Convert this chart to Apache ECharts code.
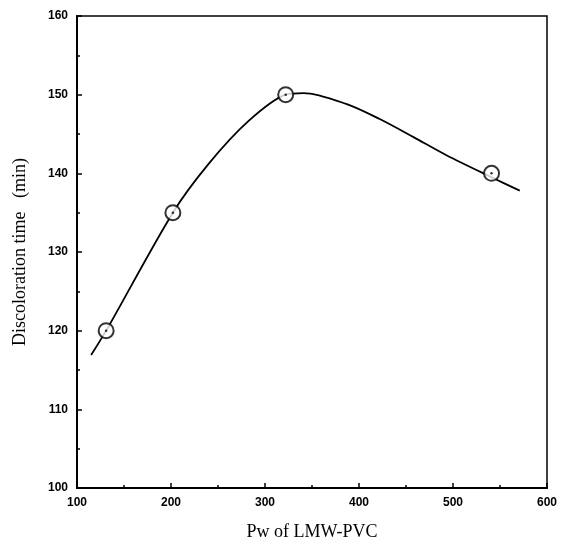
<!DOCTYPE html>
<html>
<head>
<meta charset="utf-8">
<script src="https://cdn.jsdelivr.net/npm/echarts@6/dist/echarts.min.js"></script>
<style>html,body{margin:0;padding:0;background:#fff;}#c{width:563px;height:546px;}</style>
</head>
<body>
<div id="c"></div>
<script>
// measured points
var pointX = [131, 202, 322, 541];
var pointY = [120, 135, 150, 140];
// fitted curve
var curveX = [115, 131, 202, 240, 282, 322, 341, 387, 422, 458, 493, 541, 571];
var curveY = [116.9, 120, 135, 141.2, 146.6, 150, 150.2, 148.8, 146.9, 144.6, 142.3, 139.5, 137.8];
var xTicks = [100, 200, 300, 400, 500, 600];
var yTicks = [100, 110, 120, 130, 140, 150, 160];
var xTitle = 'Pw of LMW-PVC';
var yTitle = 'Discoloration time   (min)';

var curve = curveX.map(function (x, i) { return [x, curveY[i]]; });
var pts = pointX.map(function (x, i) { return [x, pointY[i]]; });

var chart = echarts.init(document.getElementById('c'), null, {renderer: 'canvas'});
var labelStyle = {color: '#000', fontFamily: 'Liberation Sans, Arial, sans-serif', fontWeight: 'bold', fontSize: 12};
chart.setOption({
  animation: false,
  backgroundColor: '#fff',
  grid: {left: 77, right: 16, top: 16, bottom: 54, show: true, borderColor: '#000', borderWidth: 1.5, backgroundColor: 'transparent'},
  xAxis: {
    type: 'value', min: xTicks[0], max: xTicks[xTicks.length - 1], interval: 100,
    name: xTitle, nameLocation: 'middle', nameGap: 35,
    nameTextStyle: {color: '#000', fontFamily: 'Liberation Serif, Times New Roman, serif', fontSize: 18},
    axisLine: {show: true, lineStyle: {color: '#000', width: 2}},
    axisTick: {show: true, inside: true, length: 5, lineStyle: {color: '#000', width: 1.5}},
    minorTick: {show: true, splitNumber: 2, length: 3, lineStyle: {color: '#000', width: 1.5}},
    splitLine: {show: false},
    axisLabel: Object.assign({margin: 9}, labelStyle)
  },
  yAxis: {
    type: 'value', min: yTicks[0], max: yTicks[yTicks.length - 1], interval: 10,
    name: yTitle, nameLocation: 'middle', nameGap: 48,
    nameTextStyle: {color: '#000', fontFamily: 'Liberation Serif, Times New Roman, serif', fontSize: 18},
    axisLine: {show: true, lineStyle: {color: '#000', width: 2}},
    axisTick: {show: true, inside: true, length: 5, lineStyle: {color: '#000', width: 1.5}},
    minorTick: {show: true, splitNumber: 2, length: 3, lineStyle: {color: '#000', width: 1.5}},
    splitLine: {show: false},
    axisLabel: Object.assign({margin: 9}, labelStyle)
  },
  series: [
    {
      type: 'line', data: curve, smooth: 0.3, showSymbol: false, symbol: 'none',
      lineStyle: {color: '#000', width: 1.8}, z: 2
    },
    {
      type: 'scatter', data: pts, symbol: 'circle', symbolSize: 15,
      itemStyle: {color: '#fff', borderColor: '#000', borderWidth: 2}, z: 3
    },
    {
      type: 'scatter', data: pts, symbol: 'circle', symbolSize: 2.5,
      itemStyle: {color: '#000'}, z: 4
    }
  ]
});
</script>
</body>
</html>
